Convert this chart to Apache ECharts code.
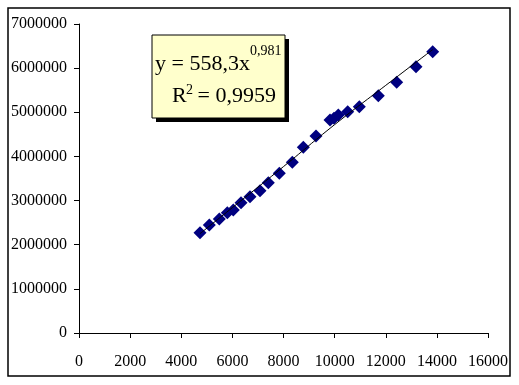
<!DOCTYPE html>
<html><head><meta charset="utf-8">
<script src="https://cdn.jsdelivr.net/npm/echarts@6/dist/echarts.min.js"></script>
<style>html,body{margin:0;padding:0;background:#fff}#c{width:519px;height:385px}</style>
</head><body><div id="c"></div>
<script>
// Observed points (x, y)
const xValues = [4733, 5097, 5489, 5801, 6036, 6337, 6690, 7081, 7406, 7836, 8344, 8775, 9271, 9819, 9976, 10144, 10512, 10965, 11709, 12428, 13183, 13837];
const yValues = [2272000, 2447000, 2583000, 2725000, 2786000, 2952000, 3088000, 3224000, 3405000, 3618000, 3867000, 4207000, 4463000, 4825000, 4864000, 4939000, 5013000, 5127000, 5376000, 5679000, 6033000, 6370000];
// Trend line
const trendX = [4733, 6000, 8000, 10000, 12000, 13837];
const trendY = [2250000, 2840000, 3770000, 4720000, 5610000, 6420000];
const xTicks = [0, 2000, 4000, 6000, 8000, 10000, 12000, 14000, 16000];
const yTicks = [0, 1000000, 2000000, 3000000, 4000000, 5000000, 6000000, 7000000];
const eqLine1 = 'y = 558,3x';
const eqSup1 = '0,981';
const eqLine2a = 'R';
const eqSup2 = '2';
const eqLine2b = ' = 0,9959';

const font = '"Liberation Serif", "Times New Roman", serif';
const chart = echarts.init(document.getElementById('c'), null, {renderer: 'canvas'});
chart.setOption({
  animation: false,
  backgroundColor: '#fff',
  grid: {left: 79, right: 31, top: 24, bottom: 52, containLabel: false},
  xAxis: {
    type: 'value', min: xTicks[0], max: xTicks[xTicks.length - 1], interval: 2000,
    axisLine: {show: true, lineStyle: {color: '#000', width: 1}},
    axisTick: {show: true, inside: false, length: 5, lineStyle: {color: '#000'}},
    axisLabel: {color: '#000', fontFamily: font, fontSize: 16, margin: 21, formatter: v => String(v)},
    splitLine: {show: false}
  },
  yAxis: {
    type: 'value', min: yTicks[0], max: yTicks[yTicks.length - 1], interval: 1000000,
    axisLine: {show: true, lineStyle: {color: '#000', width: 1}},
    axisTick: {show: true, inside: false, length: 5, lineStyle: {color: '#000'}},
    axisLabel: {color: '#000', fontFamily: font, fontSize: 16, margin: 12, formatter: v => String(v)},
    splitLine: {show: false}
  },
  series: [
    {
      type: 'line', data: trendX.map((x, i) => [x, trendY[i]]),
      showSymbol: false, smooth: true, lineStyle: {color: '#000', width: 1}, z: 3
    },
    {
      type: 'scatter', data: xValues.map((x, i) => [x, yValues[i]]),
      symbol: 'diamond', symbolSize: 13, itemStyle: {color: '#000080', opacity: 1}, z: 2
    }
  ],
  graphic: [
    {type: 'rect', shape: {x: 8, y: 8, width: 502, height: 368}, style: {fill: 'none', stroke: '#000', lineWidth: 1.5}, z: 0, silent: true},
    {type: 'rect', shape: {x: 156, y: 39, width: 133, height: 83}, style: {fill: '#000'}, z: 10},
    {type: 'rect', shape: {x: 152, y: 35, width: 133, height: 83}, style: {fill: '#ffffcc', stroke: '#000', lineWidth: 1}, z: 11},
    {type: 'text', left: 155, top: 53, style: {text: eqLine1, font: '22px ' + font, fill: '#000'}, z: 12},
    {type: 'text', left: 250, top: 44, style: {text: eqSup1, font: '14px ' + font, fill: '#000'}, z: 12},
    {type: 'text', left: 172, top: 85, style: {text: eqLine2a, font: '22px ' + font, fill: '#000'}, z: 12},
    {type: 'text', left: 186, top: 83, style: {text: eqSup2, font: '14px ' + font, fill: '#000'}, z: 12},
    {type: 'text', left: 192, top: 85, style: {text: eqLine2b, font: '22px ' + font, fill: '#000'}, z: 12}
  ]
});
</script></body></html>
